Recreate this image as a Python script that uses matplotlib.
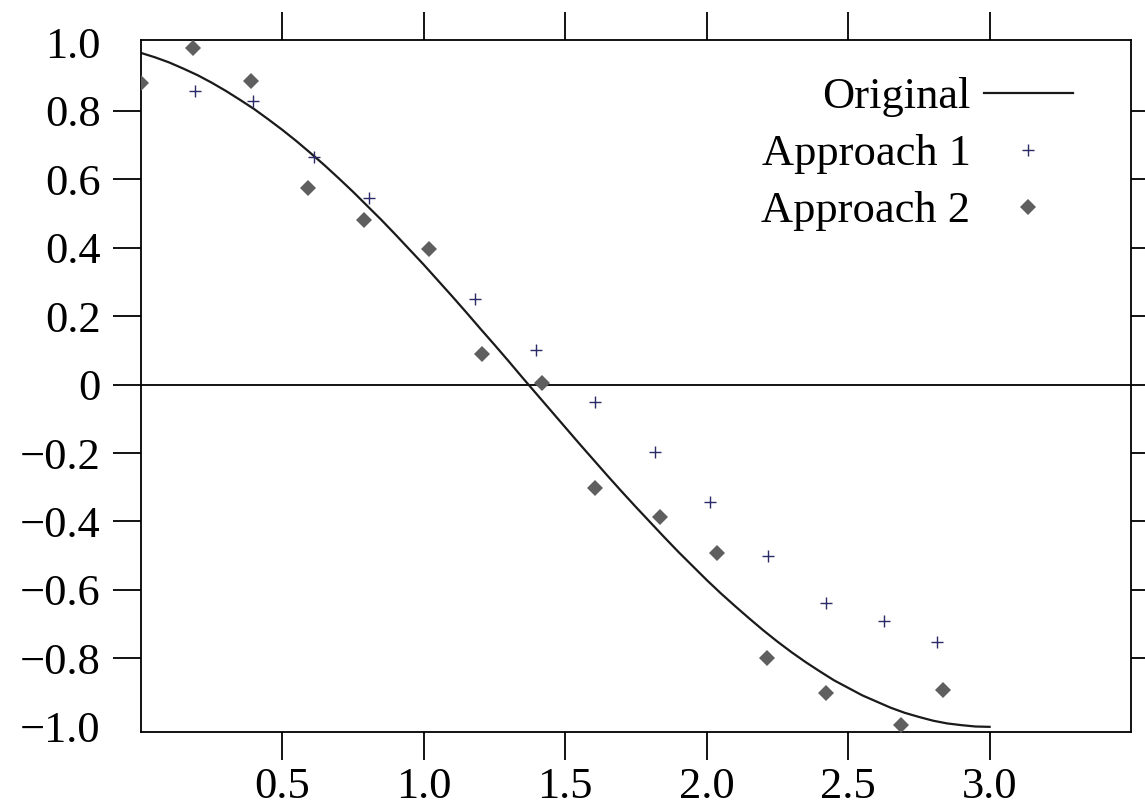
# cosine-like curve with two approximations

import matplotlib.pyplot as plt

# "Original" curve, values every 0.05
orig_x = [0.0, 0.05, 0.1, 0.15, 0.2, 0.25, 0.3, 0.35, 0.4, 0.45, 0.5,
          0.55, 0.6, 0.65, 0.7, 0.75, 0.8, 0.85, 0.9, 0.95, 1.0,
          1.05, 1.1, 1.15, 1.2, 1.25, 1.3, 1.35, 1.4, 1.45, 1.5,
          1.55, 1.6, 1.65, 1.7, 1.75, 1.8, 1.85, 1.9, 1.95, 2.0,
          2.05, 2.1, 2.15, 2.2, 2.25, 2.3, 2.35, 2.4, 2.45, 2.5,
          2.55, 2.6, 2.65, 2.7, 2.75, 2.8, 2.85, 2.9, 2.95, 3.0]
orig_y = [0.969, 0.956, 0.941, 0.923, 0.904, 0.882, 0.858, 0.832, 0.805, 0.775, 0.744,
          0.711, 0.676, 0.640, 0.602, 0.563, 0.522, 0.481, 0.438, 0.394, 0.350,
          0.304, 0.258, 0.211, 0.163, 0.116, 0.068, 0.019, -0.029, -0.077, -0.125,
          -0.173, -0.220, -0.267, -0.313, -0.358, -0.402, -0.446, -0.489, -0.530, -0.571,
          -0.610, -0.647, -0.683, -0.718, -0.751, -0.782, -0.811, -0.838, -0.864, -0.886,
          -0.908, -0.926, -0.944, -0.959, -0.971, -0.982, -0.990, -0.995, -0.999, -1.000]

# Approach 1 (+)
a1_x = [0.190, 0.396, 0.613, 0.806, 1.182, 1.397, 1.604, 1.816, 2.013, 2.215, 2.420, 2.626, 2.813]
a1_y = [0.859, 0.827, 0.666, 0.544, 0.250, 0.102, -0.052, -0.197, -0.344, -0.500, -0.637, -0.692, -0.753]

# Approach 2 (diamonds)
a2_x = [0.0, 0.184, 0.390, 0.592, 0.789, 1.020, 1.205, 1.417, 1.604, 1.836, 2.035, 2.212, 2.421, 2.687, 2.837]
a2_y = [0.881, 0.982, 0.887, 0.573, 0.482, 0.397, 0.090, 0.004, -0.303, -0.388, -0.492, -0.799, -0.900, -0.994, -0.893]

xticks = [0.5, 1.0, 1.5, 2.0, 2.5, 3.0]
xtick_labels = ["0.5", "1.0", "1.5", "2.0", "2.5", "3.0"]
yticks = [-1.0, -0.8, -0.6, -0.4, -0.2, 0.0, 0.2, 0.4, 0.6, 0.8, 1.0]
ytick_labels = ["\u22121.0", "\u22120.8", "\u22120.6", "\u22120.4", "\u22120.2", "0",
                "0.2", "0.4", "0.6", "0.8", "1.0"]

plt.rcParams['font.family'] = ['Liberation Serif', 'DejaVu Serif']

fig = plt.figure(figsize=(11.45, 8.09), dpi=100)
ax = fig.add_axes([0.1231, 0.0952, 0.8647, 0.8555])

ax.axhline(0, color='black', lw=1.3, zorder=1)
ax.plot(orig_x, orig_y, color='#1a1a1a', lw=1.6, label='Original', zorder=2)
ax.plot(a1_x, a1_y, ls='none', marker='+', ms=9, mew=1.0, color='#2b2b66',
        label='Approach 1', zorder=3)
ax.plot(a2_x, a2_y, ls='none', marker='D', ms=8.5, mew=0, color='#5f5f5f',
        label='Approach 2', zorder=3)

ax.set_xlim(0, 3.5)
ax.set_ylim(-1.015, 1.007)

ax.set_xticks(xticks)
ax.set_xticklabels(xtick_labels)
ax.set_yticks(yticks)
ax.set_yticklabels(ytick_labels)

ax.tick_params(axis='both', which='major', direction='out', length=20, width=1.3,
               labelsize=32, colors='black', top=True, right=True,
               labeltop=False, labelright=False)
ax.tick_params(axis='y', pad=9)
ax.tick_params(axis='x', pad=5)

# no tick marks at the ends of the y axis
for t in ax.yaxis.get_major_ticks():
    if abs(abs(t.get_loc()) - 1.0) < 1e-9:
        t.tick1line.set_visible(False)
        t.tick2line.set_visible(False)

for s in ax.spines.values():
    s.set_linewidth(1.3)
    s.set_color('black')

leg = ax.legend(loc='upper right', bbox_to_anchor=(0.959, 0.972), frameon=False,
                fontsize=32, markerfirst=False, handlelength=2.0, handletextpad=0.3,
                labelspacing=0.38, borderaxespad=0)

plt.savefig("out.png", dpi=100)
